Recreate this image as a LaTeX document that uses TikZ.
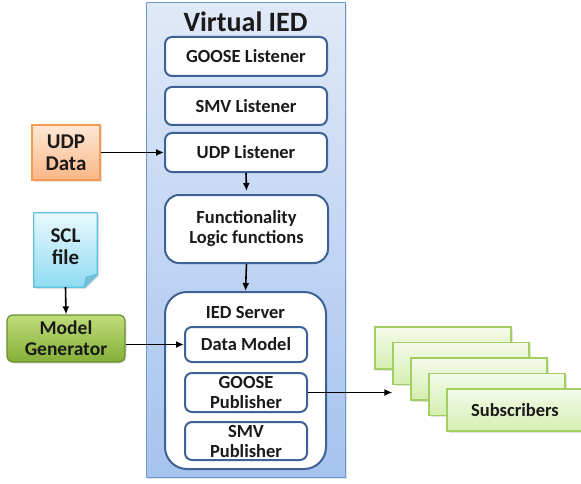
\documentclass[tikz,border=0pt]{standalone}
\usepackage{fontspec}
\setmainfont{Carlito}
\usetikzlibrary{arrows.meta,shadows,calc}

\definecolor{iedtop}{HTML}{E0E9F8}
\definecolor{iedbot}{HTML}{A6C3EF}
\definecolor{iedline}{HTML}{7097D2}
\definecolor{innerline}{HTML}{3F6296}
\definecolor{udptop}{HTML}{FEE8D6}
\definecolor{udpbot}{HTML}{FBB686}
\definecolor{udpline}{HTML}{F59A4E}
\definecolor{scltop}{HTML}{EAF9FD}
\definecolor{sclbot}{HTML}{8FDBF2}
\definecolor{sclline}{HTML}{5BC3E2}
\definecolor{mgtop}{HTML}{C0DD7A}
\definecolor{mgbot}{HTML}{84AF38}
\definecolor{mgline}{HTML}{6B8E2F}
\definecolor{subtop}{HTML}{F4FBEA}
\definecolor{subbot}{HTML}{D5EEB0}
\definecolor{subline}{HTML}{A2CE62}
\definecolor{txt}{HTML}{1A1A1A}

\tikzset{
  lbl/.style={font=\fontsize{18.5}{20}\selectfont\bfseries, text=txt, align=center},
  biglbl/.style={lbl, font=\fontsize{21}{22}\selectfont\bfseries},
  innerbox/.style={lbl, draw=innerline, line width=2pt, fill=white,
    rounded corners=7pt, inner sep=0pt},
  softshadow/.style={drop shadow={opacity=0.22, shadow xshift=1.5pt, shadow yshift=-1.5pt}},
  subbox/.style={draw=subline, line width=1.2pt, top color=subtop, bottom color=subbot,
    minimum width=136pt, minimum height=42pt, inner sep=0pt, softshadow},
  conn/.style={line width=1.6pt, -{Latex[length=8pt,width=7pt]}},
}

\begin{document}
\begin{tikzpicture}[x=1pt,y=-1pt]
\useasboundingbox (0,0) rectangle (581,484);

% Virtual IED container
\node[draw=iedline, line width=1pt, top color=iedtop, bottom color=iedbot,
  minimum width=199pt, minimum height=474pt, softshadow] (ied) at (245.5,240) {};
\node[font=\fontsize{28}{30}\selectfont\bfseries, text=txt] (iedtitle) at (245.5,22) {Virtual IED};

% listeners and logic
\node[innerbox, minimum width=162pt, minimum height=39pt] (goose) at (246,56.5) {GOOSE Listener};
\node[innerbox, minimum width=162pt, minimum height=38pt] (smv) at (246,106) {SMV Listener};
\node[innerbox, minimum width=162pt, minimum height=39pt] (udpl) at (246,152.5) {UDP Listener};
\node[innerbox, rounded corners=14pt, minimum width=163pt, minimum height=68pt] (func) at (246.5,229)
  {Functionality\\Logic functions};

% IED server with its parts
\node[innerbox, rounded corners=22pt, minimum width=161pt, minimum height=177pt] (server) at (245.5,380.5) {};
\node[lbl] (servertitle) at (245.5,313) {IED Server};
\node[innerbox, minimum width=122pt, minimum height=35pt] (dm) at (246,344.5) {Data Model};
\node[innerbox, minimum width=122pt, minimum height=39pt] (gpub) at (246,392.5) {GOOSE\\Publisher};
\node[innerbox, minimum width=122pt, minimum height=38pt] (spub) at (246,441) {SMV\\Publisher};

% external sources
\node[biglbl, draw=udpline, line width=1.2pt,
  top color=udptop, bottom color=udpbot, minimum width=68pt, minimum height=55pt,
  inner sep=0pt, softshadow] (udpdata) at (66,152.5) {UDP\\Data};

\node[minimum width=63pt, minimum height=74pt, inner sep=0pt] (scl) at (65.5,250) {};
\fill[black, opacity=0.2] ([xshift=1.5pt,yshift=-1.5pt]scl.north west) -- ([xshift=1.5pt,yshift=-1.5pt]scl.north east)
  -- ([xshift=1.5pt,yshift=11.5pt]scl.south east) -- ([xshift=-11.5pt,yshift=-1.5pt]scl.south east)
  -- ([xshift=1.5pt,yshift=-1.5pt]scl.south west) -- cycle;
\shade[top color=scltop, bottom color=sclbot] (scl.north west) -- (scl.north east)
  -- ([yshift=13pt]scl.south east) -- ([xshift=-13pt]scl.south east) -- (scl.south west) -- cycle;
\draw[sclline, line width=1.2pt, line join=round] (scl.north west) -- (scl.north east)
  -- ([yshift=13pt]scl.south east) -- ([xshift=-13pt]scl.south east) -- (scl.south west) -- cycle;
\filldraw[draw=sclline, fill=sclbot!80!black!60!sclbot, line width=1pt, line join=round]
  ([yshift=13pt]scl.south east) -- ([xshift=-11pt,yshift=10pt]scl.south east) -- ([xshift=-13pt]scl.south east) -- cycle;
\node[biglbl] (scltext) at (65.5,247) {SCL\\file};

\node[lbl, font=\fontsize{19.5}{21}\selectfont\bfseries, draw=mgline, line width=1.2pt,
  top color=mgtop, bottom color=mgbot, rounded corners=6pt, minimum width=118pt,
  minimum height=47pt, inner sep=0pt, softshadow] (mg) at (66,338.5) {Model\\Generator};

% subscriber stack
\node[subbox] (sub1) at (443,348) {};
\node[subbox] (sub2) at (461,363.5) {};
\node[subbox] (sub3) at (479,379) {};
\node[subbox] (sub4) at (497,394.5) {};
\node[subbox, lbl] (sub5) at (515,410) {Subscribers};

% connectors
\draw[conn] (udpdata.east) -- (udpl.west);
\draw[conn] (udpl.south) -- ($(func.north)+(0,-3)$);
\draw[conn] (func.south) -- (server.north);
\draw[conn] (scl.south) -- (mg.north);
\draw[conn] (mg.east |- dm.west) -- (dm.west);
\draw[conn] (gpub.east) -- (sub2.west |- gpub.east);
\end{tikzpicture}
\end{document}
